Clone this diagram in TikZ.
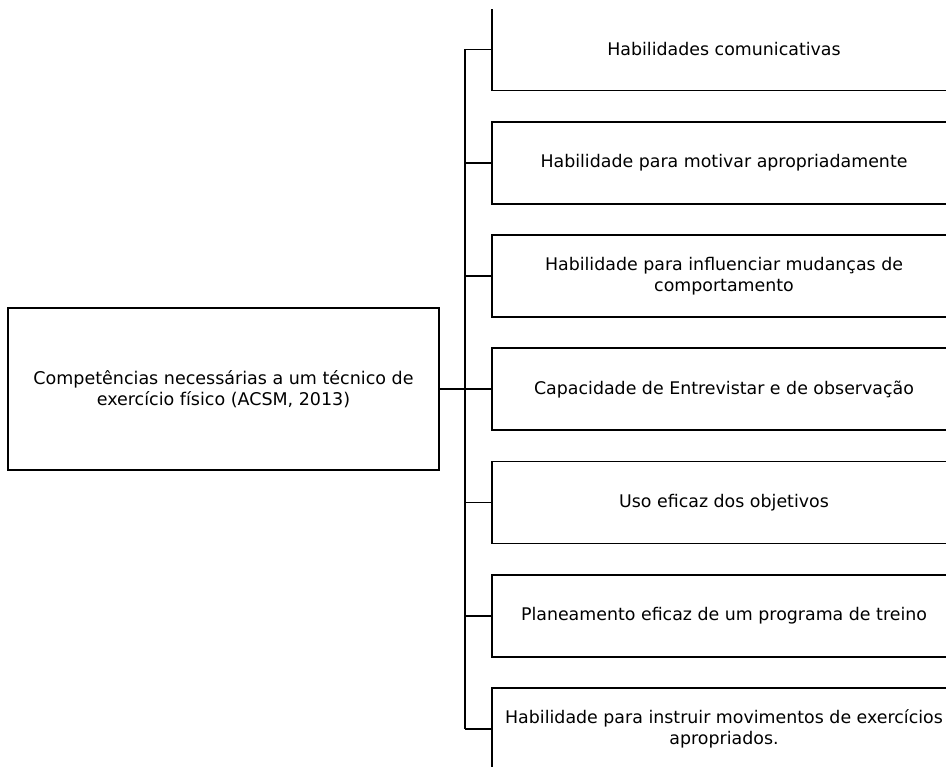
\documentclass[tikz,border=0pt]{standalone}
\usepackage{fontspec}
\setmainfont{DejaVu Sans}
\usepackage{tikz}

\tikzset{
  mainbox/.style={draw, line width=1.8pt, minimum width=431pt, minimum height=162pt, align=center, font=\fontsize{17.5}{21}\selectfont},
  itembox/.style={draw, line width=1.8pt, minimum width=464pt, minimum height=82pt, align=center, font=\fontsize{17.4}{21}\selectfont},
  link/.style={line width=1.8pt}
}

\begin{document}
\begin{tikzpicture}[x=1pt, y=-1pt]
  \useasboundingbox (0,0) rectangle (946,767);
  \clip (0,10) rectangle (946,767);

  \node[mainbox] (main) at (223.5,389) {Competências necessárias a um técnico de\\exercício físico (ACSM, 2013)};

  \foreach \i/\itemtext in {1/{Habilidades comunicativas},
                            2/{Habilidade para motivar apropriadamente},
                            3/{Habilidade para influenciar mudanças de\\comportamento},
                            4/{Capacidade de Entrevistar e de observação},
                            5/{Uso eficaz dos objetivos},
                            6/{Planeamento eficaz de um programa de treino},
                            7/{Habilidade para instruir movimentos de exercícios\\apropriados.}}
    \node[itembox] (item\i) at (724,{49.5+113.25*(\i-1)}) {\itemtext};

  \coordinate (trunk top) at (465,49.5);
  \coordinate (trunk bot) at (465,729);
  \draw[link] (trunk top) -- (trunk bot);
  \draw[link] (main.east) -- (main.east -| trunk top);

  \foreach \i in {1,...,7}
    \draw[link] (item\i.west -| trunk top) -- (item\i.west);

\end{tikzpicture}
\end{document}
